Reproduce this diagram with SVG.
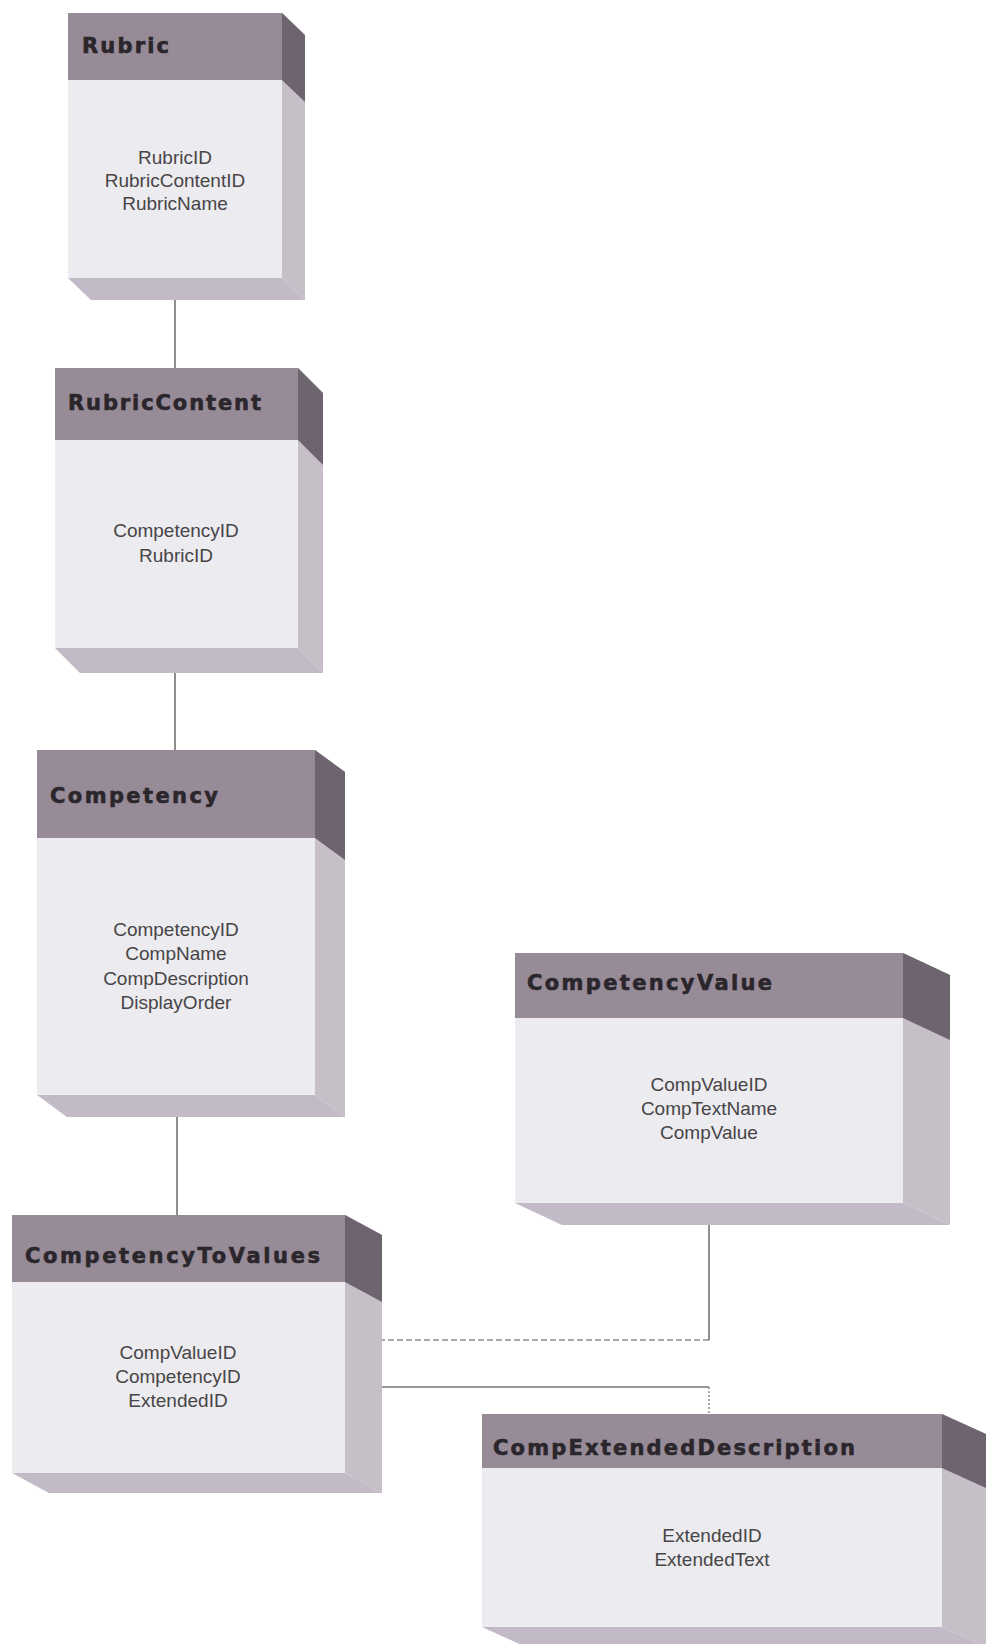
<svg xmlns="http://www.w3.org/2000/svg" width="986" height="1644" viewBox="0 0 986 1644">
<style>
.head{fill:#978b98}
.body{fill:#ecebef}
.side{fill:#c6bfc8}
.sidedark{fill:#6d6470}
.bottom{fill:#c2bac6}
.title{font-family:"DejaVu Sans","Liberation Sans",Arial,sans-serif;font-weight:bold;font-size:21px;fill:#2a262b;stroke:#2a262b;stroke-width:0.6}
.attr{font-family:"Liberation Sans",Arial,sans-serif;font-size:19px;fill:#474547;text-anchor:middle}
.conn{fill:none;stroke:#333;stroke-width:1.1}
.dash{fill:none;stroke:#555;stroke-width:1.1;stroke-dasharray:6 3}
.dot{fill:none;stroke:#555;stroke-width:1;stroke-dasharray:2 2}
</style>
<rect width="986" height="1644" fill="#ffffff"/>
<g id="connectors">
<line class="conn" x1="175" y1="300" x2="175" y2="368"/>
<line class="conn" x1="175" y1="673" x2="175" y2="750"/>
<line class="conn" x1="177" y1="1117" x2="177" y2="1215"/>
<path class="conn" d="M709,1212 V1340"/>
<path class="dash" d="M709,1340 H363"/>
<path class="conn" d="M363,1387 H709"/>
<path class="dot" d="M709,1387 V1414"/>
</g>
<g id="rubric">
<polygon class="side" points="282,13 305,35 305,300 282,278"/>
<polygon class="sidedark" points="282,13 305,35 305,102 282,80"/>
<polygon class="bottom" points="68,278 282,278 305,300 91,300"/>
<rect class="body" x="68" y="13" width="214" height="265"/>
<rect class="head" x="68" y="13" width="214" height="67"/>
<text class="title" x="82" y="53" textLength="87" lengthAdjust="spacing">Rubric</text>
<text class="attr" x="175" y="164">RubricID</text>
<text class="attr" x="175" y="187">RubricContentID</text>
<text class="attr" x="175" y="210">RubricName</text>
</g>
<g id="rubriccontent">
<polygon class="side" points="298,368 323,393 323,673 298,648"/>
<polygon class="sidedark" points="298,368 323,393 323,465 298,440"/>
<polygon class="bottom" points="55,648 298,648 323,673 80,673"/>
<rect class="body" x="55" y="368" width="243" height="280"/>
<rect class="head" x="55" y="368" width="243" height="72"/>
<text class="title" x="68" y="410" textLength="193" lengthAdjust="spacing">RubricContent</text>
<text class="attr" x="176" y="537">CompetencyID</text>
<text class="attr" x="176" y="562">RubricID</text>
</g>
<g id="competency">
<polygon class="side" points="315,750 345,772 345,1117 315,1095"/>
<polygon class="sidedark" points="315,750 345,772 345,860 315,838"/>
<polygon class="bottom" points="37,1095 315,1095 345,1117 67,1117"/>
<rect class="body" x="37" y="750" width="278" height="345"/>
<rect class="head" x="37" y="750" width="278" height="88"/>
<text class="title" x="50" y="803" textLength="168" lengthAdjust="spacing">Competency</text>
<text class="attr" x="176" y="936">CompetencyID</text>
<text class="attr" x="176" y="960">CompName</text>
<text class="attr" x="176" y="985">CompDescription</text>
<text class="attr" x="176" y="1009">DisplayOrder</text>
</g>
<g id="competencyvalue">
<polygon class="side" points="903,953 950,975 950,1225 903,1203"/>
<polygon class="sidedark" points="903,953 950,975 950,1040 903,1018"/>
<polygon class="bottom" points="515,1203 903,1203 950,1225 562,1225"/>
<rect class="body" x="515" y="953" width="388" height="250"/>
<rect class="head" x="515" y="953" width="388" height="65"/>
<text class="title" x="527" y="990" textLength="245" lengthAdjust="spacing">CompetencyValue</text>
<text class="attr" x="709" y="1091">CompValueID</text>
<text class="attr" x="709" y="1115">CompTextName</text>
<text class="attr" x="709" y="1139">CompValue</text>
</g>
<g id="competencytovalues">
<polygon class="side" points="345,1215 382,1235 382,1493 345,1473"/>
<polygon class="sidedark" points="345,1215 382,1235 382,1302 345,1282"/>
<polygon class="bottom" points="12,1473 345,1473 382,1493 49,1493"/>
<rect class="body" x="12" y="1215" width="333" height="258"/>
<rect class="head" x="12" y="1215" width="333" height="67"/>
<text class="title" x="25" y="1263" textLength="295" lengthAdjust="spacing">CompetencyToValues</text>
<text class="attr" x="178" y="1359">CompValueID</text>
<text class="attr" x="178" y="1383">CompetencyID</text>
<text class="attr" x="178" y="1407">ExtendedID</text>
</g>
<g id="compextendeddescription">
<polygon class="side" points="942,1414 986,1434 986,1647 942,1627"/>
<polygon class="sidedark" points="942,1414 986,1434 986,1488 942,1468"/>
<polygon class="bottom" points="482,1627 942,1627 986,1647 526,1647"/>
<rect class="body" x="482" y="1414" width="460" height="213"/>
<rect class="head" x="482" y="1414" width="460" height="54"/>
<text class="title" x="493" y="1455" textLength="362" lengthAdjust="spacing">CompExtendedDescription</text>
<text class="attr" x="712" y="1542">ExtendedID</text>
<text class="attr" x="712" y="1566">ExtendedText</text>
</g>
</svg>
